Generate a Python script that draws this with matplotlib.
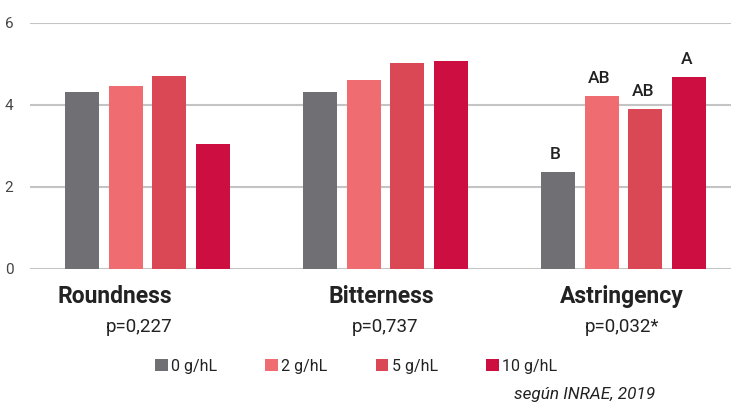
import matplotlib
matplotlib.use("Agg")
import matplotlib.pyplot as plt
from matplotlib.patches import Patch
import matplotlib.transforms as mtransforms

categories = ["Roundness", "Bitterness", "Astringency"]
p_values = ["p=0,227", "p=0,737", "p=0,032*"]
series_labels = ["0 g/hL", "2 g/hL", "5 g/hL", "10 g/hL"]
values = {
    "0 g/hL": [4.3, 4.3, 2.35],
    "2 g/hL": [4.45, 4.6, 4.2],
    "5 g/hL": [4.7, 5.02, 3.9],
    "10 g/hL": [3.05, 5.07, 4.68],
}
astringency_letters = ["B", "AB", "AB", "A"]
yticks = [0, 2, 4, 6]
source = "según INRAE, 2019"

colors = ["#707074", "#EF6D70", "#DB4855", "#CC0E40"]
text_color = "#222222"

plt.rcParams["font.family"] = ["Roboto", "DejaVu Sans"]

W, H = 731, 408
fig = plt.figure(figsize=(W / 100, H / 100), dpi=100)
ax_left, ax_right = 30, 731
ax_top, ax_bottom = 22.7, 268.7
ax = fig.add_axes([ax_left / W, (H - ax_bottom) / H, (ax_right - ax_left) / W, (ax_bottom - ax_top) / H])

step = 0.1836
width = 0.143
handles = []
for j, lab in enumerate(series_labels):
    xs = [i + (j - 1.5) * step for i in range(len(categories))]
    ax.bar(xs, values[lab], width=width, color=colors[j], zorder=3)
    handles.append(Patch(facecolor=colors[j], label=lab))

# significance letters for Astringency
ai = categories.index("Astringency")
for j, lab in enumerate(series_labels):
    x = ai + (j - 1.5) * step
    ax.text(x - 0.01, values[lab][ai] + 0.25, astringency_letters[j], ha="center", va="bottom",
            fontsize=12.5, fontweight="medium", color=text_color, zorder=4)

ax.set_xlim(-0.4937, 2.452)
ax.set_ylim(0, 6)
ax.set_yticks(yticks)
ax.set_yticklabels([str(t) for t in yticks])
ax.set_xticks([])
ax.tick_params(axis="y", length=0, pad=12, labelsize=11, labelcolor="#444444")
for s in ax.spines.values():
    s.set_visible(False)
ax.grid(axis="y", color="#c4c4c4", linewidth=1.5, zorder=0)
ax.set_axisbelow(True)

trans = mtransforms.blended_transform_factory(ax.transData, ax.transAxes)
name_off = [-0.137, -0.019, -0.006]
p_off = [-0.036, 0.0, -0.006]
for i, (c, p) in enumerate(zip(categories, p_values)):
    ax.text(i + name_off[i], -0.111, c, transform=trans, ha="center", va="center",
            fontsize=16.5, fontweight="bold", color=text_color)
    ax.text(i + p_off[i], -0.237, p, transform=trans, ha="center", va="center",
            fontsize=13.5, color=text_color)

fig.legend(handles=handles, labels=series_labels, ncol=4, loc="center",
           bbox_to_anchor=(356 / W, (H - 366) / H), frameon=False,
           prop={"size": 11.5}, handlelength=0.81, handleheight=0.81,
           handletextpad=0.2, columnspacing=3.0, labelcolor=text_color)

fig.text(655 / W, (H - 395) / H, source, ha="right", va="center", fontsize=12.3,
         style="italic", color=text_color)

fig.savefig("out.png", dpi=100)
